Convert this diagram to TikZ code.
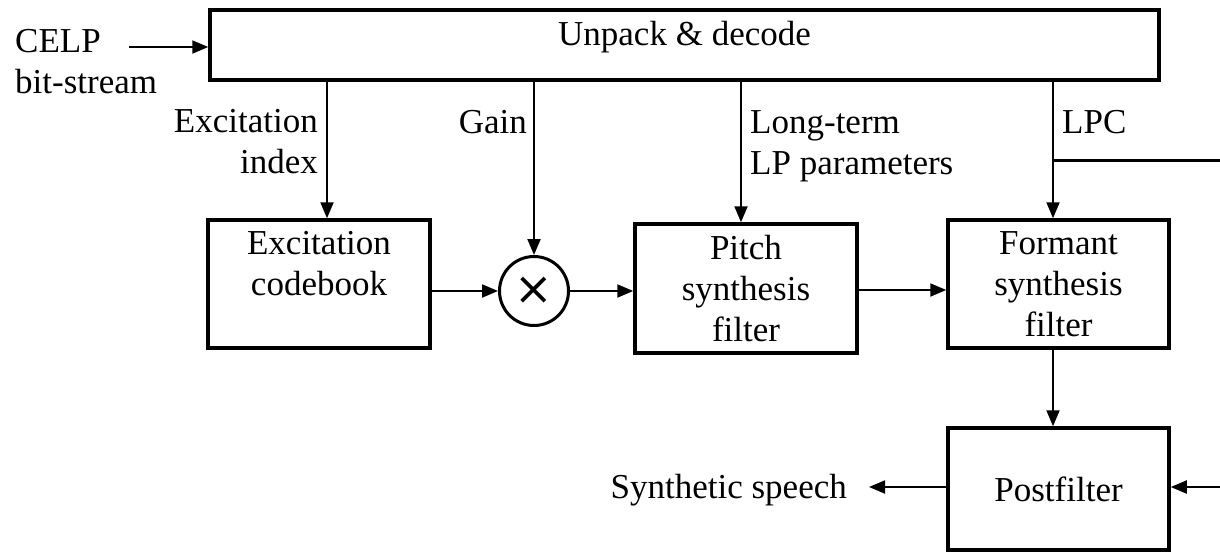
\documentclass[tikz,border=0pt]{standalone}
\usepackage{fontspec}
\setmainfont{Liberation Serif}
\newfontfamily\symfont{DejaVu Sans}
\usetikzlibrary{arrows.meta}
\begin{document}
\begin{tikzpicture}[x=1pt,y=-1pt,
  every node/.style={font=\fontsize{35}{41}\selectfont},
  blk/.style={draw, line width=3.5pt, inner sep=0pt, align=center},
  lbl/.style={inner sep=0pt},
  arr/.style={line width=2pt, -{Triangle[length=16pt,width=13pt]}},
  conn/.style={line width=2pt}]
\useasboundingbox (0,0) rectangle (1220,554);

% blocks
\node[blk, minimum width=949pt, minimum height=70pt, text height=25pt, text depth=25pt] (unpack) at (684.5,45) {Unpack \& decode};
\node[blk, minimum width=222pt, minimum height=128pt] (cb) at (319,284) {Excitation\\codebook\\};
\node[draw, circle, line width=3pt, minimum size=69pt, inner sep=0pt, font=\symfont\fontsize{46}{46}\selectfont] (mul) at (534,291) {×};
\node[blk, minimum width=222pt, minimum height=129pt] (pitch) at (746,288.5) {Pitch\\synthesis\\filter};
\node[blk, minimum width=221pt, minimum height=128pt] (formant) at (1058.5,284) {Formant\\synthesis\\filter};
\node[blk, minimum width=221pt, minimum height=122pt] (post) at (1058.5,489) {Postfilter};

% labels
\node[lbl, anchor=north west, align=left] (celp) at (15,29) {CELP\\bit-stream};
\node[lbl, anchor=north east, align=right] (exidx) at (318,109) {Excitation\\index};
\node[lbl, anchor=base east] (gain) at (527,133) {Gain};
\node[lbl, anchor=north west, align=left] (ltp) at (750,110) {Long-term\\LP parameters};
\node[lbl, anchor=base west] (lpc) at (1062,133) {LPC};
\node[inner ysep=0pt, inner xsep=22pt, anchor=base east] (speech) at (869,498) {Synthetic speech};

% helper coordinates
\coordinate (celpin) at (129,47);
\coordinate (tapA) at (327,0);
\coordinate (tapC) at (741,0);
\coordinate (tapD) at (1053,0);
\coordinate (redgeA) at (1220,160);
\coordinate (redgeB) at (1220,487);

% connectors
\draw[arr] (celpin) -- (celpin -| unpack.west);
\draw[arr] (unpack.south -| tapA) -- (cb.north -| tapA);
\draw[arr] (unpack.south -| mul) -- (mul.north);
\draw[arr] (unpack.south -| tapC) -- (pitch.north -| tapC);
\draw[arr] (unpack.south -| tapD) -- (formant.north -| tapD);
\draw[line width=3pt] (tapD |- redgeA) -- (redgeA);
\draw[arr] (cb.east |- mul) -- (mul.west);
\draw[arr] (mul.east) -- (mul.east -| pitch.west);
\draw[arr] (pitch.east |- 0,290) -- (formant.west |- 0,290);
\draw[arr] (formant.south -| tapD) -- (post.north -| tapD);
\draw[arr] (redgeB) -- (redgeB -| post.east);
\draw[arr] (post.west |- redgeB) -- (speech.east |- redgeB);
\end{tikzpicture}
\end{document}
